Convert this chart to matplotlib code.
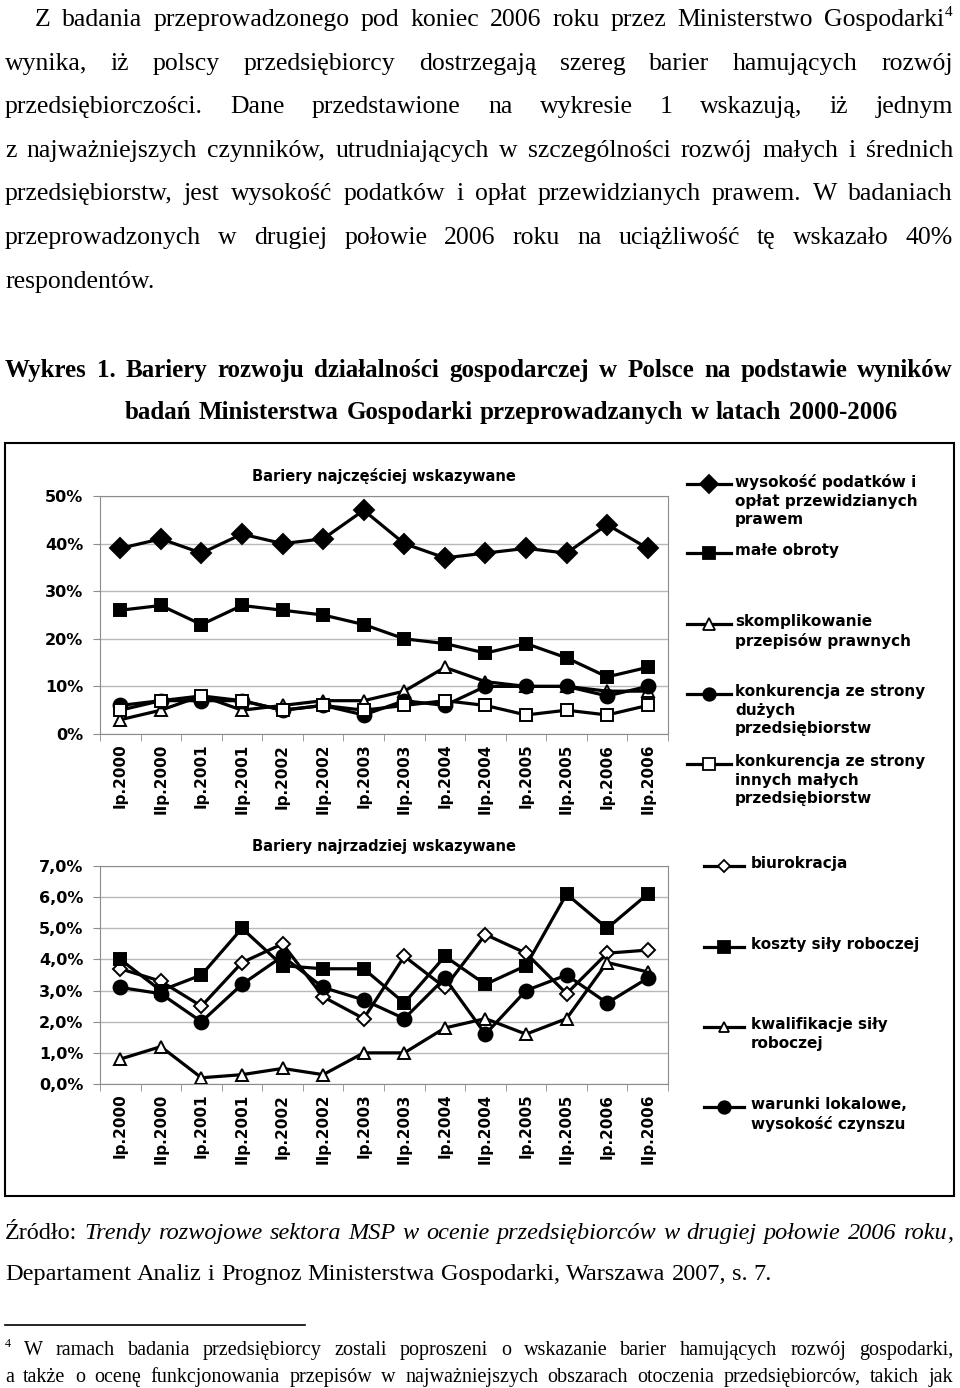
import matplotlib
matplotlib.use('Agg')
import matplotlib.pyplot as plt
from matplotlib.ticker import FuncFormatter
import numpy as np

SERIF = 'Liberation Serif'
SANS = 'DejaVu Sans'

# kategorie (półrocza badań)
periods = ['Ip.2000', 'IIp.2000', 'Ip.2001', 'IIp.2001', 'Ip.2002', 'IIp.2002', 'Ip.2003',
           'IIp.2003', 'Ip.2004', 'IIp.2004', 'Ip.2005', 'IIp.2005', 'Ip.2006', 'IIp.2006']

# bariery najczęściej wskazywane (%)
podatki = [39, 41, 38, 42, 40, 41, 47, 40, 37, 38, 39, 38, 44, 39]
obroty = [26, 27, 23, 27, 26, 25, 23, 20, 19, 17, 19, 16, 12, 14]
przepisy = [3, 5, 8, 5, 6, 7, 7, 9, 14, 11, 10, 10, 9, 9]
duze_firmy = [6, 7, 7, 7, 5, 6, 4, 7, 6, 10, 10, 10, 8, 10]
male_firmy = [5, 7, 8, 7, 5, 6, 5, 6, 7, 6, 4, 5, 4, 6]

# bariery najrzadziej wskazywane (%)
biurokracja = [3.7, 3.3, 2.5, 3.9, 4.5, 2.8, 2.1, 4.1, 3.1, 4.8, 4.2, 2.9, 4.2, 4.3]
koszty_pracy = [4.0, 3.0, 3.5, 5.0, 3.8, 3.7, 3.7, 2.6, 4.1, 3.2, 3.8, 6.1, 5.0, 6.1]
kwalifikacje = [0.8, 1.2, 0.2, 0.3, 0.5, 0.3, 1.0, 1.0, 1.8, 2.1, 1.6, 2.1, 3.9, 3.6]
warunki = [3.1, 2.9, 2.0, 3.2, 4.1, 3.1, 2.7, 2.1, 3.4, 1.6, 3.0, 3.5, 2.6, 3.4]

top_labels = ['wysokość podatków i\nopłat przewidzianych\nprawem', 'małe obroty',
              'skomplikowanie\nprzepisów prawnych',
              'konkurencja ze strony\ndużych\nprzedsiębiorstw',
              'konkurencja ze strony\ninnych małych\nprzedsiębiorstw']
bottom_labels = ['biurokracja', 'koszty siły roboczej', 'kwalifikacje siły\nroboczej',
                 'warunki lokalowe,\nwysokość czynszu']

top_styles = [('D', 'k', 10), ('s', 'k', 9), ('^', 'white', 9), ('o', 'k', 10), ('s', 'white', 9)]
bottom_styles = [('D', 'white', 7), ('s', 'k', 9), ('^', 'white', 8.5), ('o', 'k', 10)]

fig = plt.figure(figsize=(9.6, 13.88), dpi=100)

# warstwa "strony" w pikselach
page = fig.add_axes([0, 0, 1, 1])
page.set_xlim(0, 960)
page.set_ylim(1388, 0)
page.axis('off')
renderer = fig.canvas.get_renderer()


def words(s, style='normal', scale=1.0, rise=0):
    return [[(w, style, scale, rise)] for w in s.split()]


def put_line(word_list, x0, y, size, x1=None, weight='normal'):
    # justowanie: odstępy między wyrazami dobrane tak, by linia kończyła się w x1
    placed = []
    total = 0
    for word in word_list:
        arts = []
        ww = 0
        for txt, style, scale, rise in word:
            t = page.text(0, y - rise, txt, fontsize=size * scale, fontstyle=style,
                          fontweight=weight, family=SERIF, va='baseline', ha='left')
            w = t.get_window_extent(renderer).width
            arts.append((t, ww))
            ww += w
        placed.append((arts, ww))
        total += ww
    gap = 0.25 * size * 100 / 72
    if x1 is not None and len(placed) > 1:
        gap = max((x1 - x0 - total) / (len(placed) - 1), 0.12 * size * 100 / 72)
    x = x0
    for arts, ww in placed:
        for t, off in arts:
            t.set_x(x + off)
        x += ww + gap


# tekst akapitu
body = 18.5
line1 = words('Z badania przeprowadzonego pod koniec 2006 roku przez Ministerstwo')
line1.append([('Gospodarki', 'normal', 1, 0), ('4', 'normal', 0.6, 10)])
put_line(line1, 35, 26, body, 952)
put_line(words('wynika, iż polscy przedsiębiorcy dostrzegają szereg barier hamujących rozwój'), 5, 70, body, 953)
put_line(words('przedsiębiorczości. Dane przedstawione na wykresie 1 wskazują, iż jednym'), 5, 113, body, 953)
put_line(words('z najważniejszych czynników, utrudniających w szczególności rozwój małych i średnich'), 5, 157, body, 953)
put_line(words('przedsiębiorstw, jest wysokość podatków i opłat przewidzianych prawem. W badaniach'), 5, 200, body, 953)
put_line(words('przeprowadzonych w drugiej połowie 2006 roku na uciążliwość tę wskazało 40%'), 5, 244, body, 953)
put_line(words('respondentów.'), 5, 288, body)

# tytuł wykresu
put_line(words('Wykres 1. Bariery rozwoju działalności gospodarczej w Polsce na podstawie wyników'),
         5, 377, 18, 953, weight='bold')
put_line(words('badań Ministerstwa Gospodarki przeprowadzanych w latach 2000-2006'),
         125, 419, 18, 897, weight='bold')

# źródło
src_size = 17.5
src = words('Źródło:')
src += words('Trendy rozwojowe sektora MSP w ocenie przedsiębiorców w drugiej połowie 2006', 'italic')
src.append([('roku', 'italic', 1, 0), (',', 'normal', 1, 0)])
put_line(src, 5, 1239, src_size, 953)
put_line(words('Departament Analiz i Prognoz Ministerstwa Gospodarki, Warszawa 2007, s. 7.'), 5, 1280, src_size)

# przypis
foot = 14.5
page.plot([5, 305], [1325, 1325], color='k', lw=1.2)
fl = [[('4', 'normal', 0.6, 8)]]
fl += words('W ramach badania przedsiębiorcy zostali poproszeni o wskazanie barier hamujących rozwój gospodarki,')
put_line(fl, 5, 1355, foot, 953)
put_line(words('a także o ocenę funkcjonowania przepisów w najważniejszych obszarach otoczenia przedsiębiorców, takich jak'),
         5, 1382, foot, 953)

# ramka wokół wykresu
page.add_patch(plt.Rectangle((5, 443), 949, 753, fill=False, ec='k', lw=1.5))


def setup(ax, ymax, step, fmt, title):
    x = np.arange(len(periods))
    ax.set_xlim(-0.5, len(periods) - 0.5)
    ax.set_ylim(0, ymax)
    ax.set_yticks(np.arange(0, ymax + step / 2, step))
    ax.yaxis.set_major_formatter(FuncFormatter(fmt))
    ax.grid(axis='y', color='#b8b8b8', lw=1)
    ax.set_axisbelow(True)
    ax.set_xticks(x)
    ax.set_xticklabels(periods, rotation=90, fontweight='bold', fontsize=11, family=SANS)
    ax.set_xticks(np.arange(-0.5, len(periods), 1), minor=True)
    ax.tick_params(axis='x', which='major', length=0, pad=7)
    ax.tick_params(axis='x', which='minor', length=5, color='#8c8c8c')
    ax.tick_params(axis='y', length=5, color='#8c8c8c', pad=7)
    for lab in ax.get_yticklabels():
        lab.set_fontweight('bold')
        lab.set_fontsize(11.5)
    for s in ax.spines.values():
        s.set_color('#8c8c8c')
    ax.set_title(title, fontsize=10.5, fontweight='bold', pad=11, family=SANS)
    return x


def legend(series_labels, styles, xh0, xh1, xt, ys):
    for lab, (m, fc, ms), y in zip(series_labels, styles, ys):
        page.plot([xh0, xh1], [y, y], color='k', lw=2.3)
        page.plot([(xh0 + xh1) / 2], [y], marker=m, ms=ms * 0.9, mfc=fc, mec='k', mew=1.3, color='k')
        page.text(xt, y - 10, lab, fontsize=11, fontweight='bold', family=SANS,
                  va='top', ha='left', linespacing=1.3)


# wykres górny
ax1 = fig.add_axes([100 / 960, 1 - 734 / 1388, 568 / 960, 238 / 1388])
x = setup(ax1, 50, 10, lambda v, p: f'{v:.0f}%', 'Bariery najczęściej wskazywane')
for vals, (m, fc, ms) in zip([podatki, obroty, przepisy, duze_firmy, male_firmy], top_styles):
    ax1.plot(x, vals, color='k', lw=2.3, marker=m, ms=ms, mfc=fc, mec='k', mew=1.4, clip_on=False)
legend(top_labels, top_styles, 687, 731, 735, [484, 553, 624, 694, 764])

# wykres dolny
ax2 = fig.add_axes([100 / 960, 1 - 1084 / 1388, 568 / 960, 218 / 1388])
x = setup(ax2, 7, 1, lambda v, p: f'{v:.1f}%'.replace('.', ','), 'Bariery najrzadziej wskazywane')
for vals, (m, fc, ms) in zip([biurokracja, koszty_pracy, kwalifikacje, warunki], bottom_styles):
    ax2.plot(x, vals, color='k', lw=2.3, marker=m, ms=ms, mfc=fc, mec='k', mew=1.4, clip_on=False)
legend(bottom_labels, bottom_styles, 704, 744, 751, [866, 947, 1027, 1107])

fig.savefig('out.png', dpi=100)
